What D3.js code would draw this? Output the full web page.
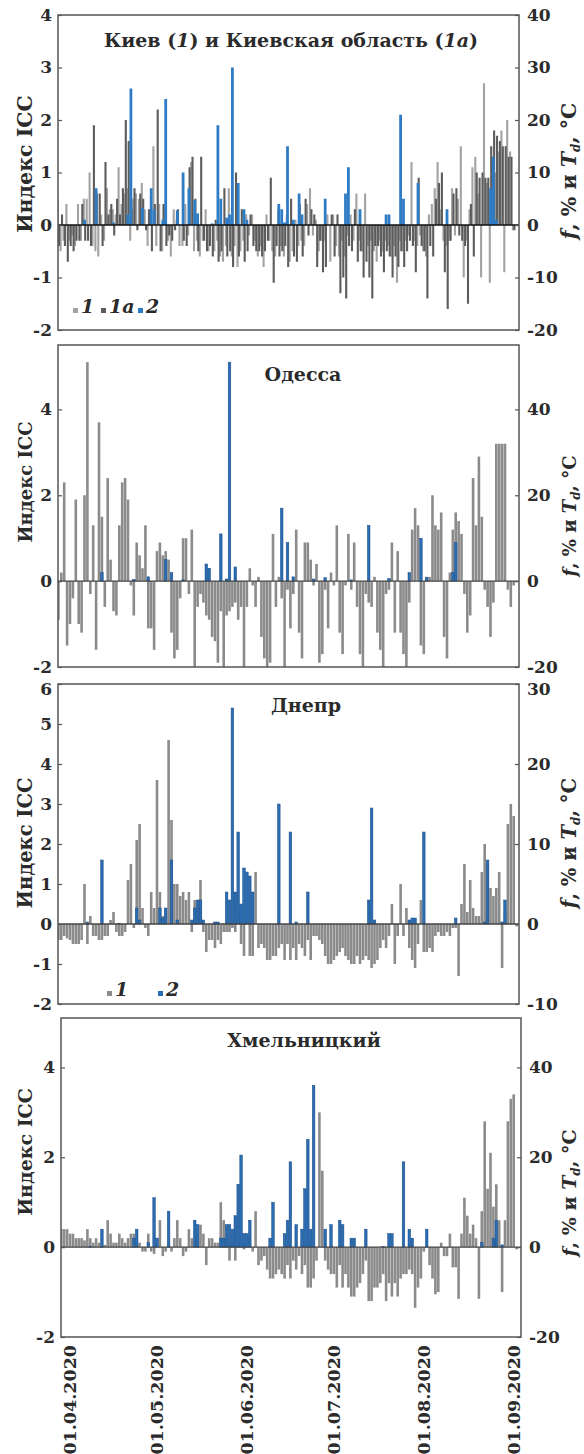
<!DOCTYPE html>
<html>
<head>
<meta charset="utf-8">
<script src="https://cdn.jsdelivr.net/npm/d3@7"></script>
<style>
  body { margin: 0; background: #fff; }
  text { font-family: "DejaVu Serif", serif; font-weight: bold; fill: #2b2b2b; }
</style>
</head>
<body>
<div id="chart"></div>
<script>
// дни: 28.03.2020 ... 02.09.2020 (159 значений)
const firstDay = Date.UTC(2020, 2, 28);
const monthTicks = ['01.04.2020', '01.05.2020', '01.06.2020', '01.07.2020', '01.08.2020', '01.09.2020'];

// Киев (1), f/Td
const kievCity = [
  5, -5, -3, 4, -3, -2, -4, 4, -3, 5,
  5, 10, -4, -5, -6, 2, -3, 7, 3, 3,
  2, 11, 4, 6, 7, -3, 5, 6, 5, 8,
  3, -4, 2, 15, -4, 4, -5, 4, -3, -6,
  3, 1, -4, -4, 4, -2, 12, -5, -3, -6,
  -3, 3, -5, 0, -5, -3, -6, -7, -4, 7,
  -6, -4, -8, -5, -3, 2, -2, 2, -3, -6,
  -4, -8, 2, -3, -5, -6, 3, -4, -6, 2,
  -7, -5, 1, -4, -3, -4, 4, 7, -2, 1,
  -5, -3, -3, 2, -7, 2, -4, -6, -3, -6,
  -2, 2, -3, 6, -3, -5, 6, -4, -3, -5,
  -7, -3, -5, -3, -4, -6, -4, -11, -3, -5,
  -3, -2, 12, -3, -4, -2, -5, -6, 2, 4,
  7, 12, 3, -3, -4, -3, 7, -2, 5, 15,
  -10, -3, 3, 11, 13, 6, -10, 27, 8, -11,
  5, 10, 14, 18, -9, 20, 14, -1, 0
];
// Киевская область (1a), f/Td
const kievRegion = [
  -4, 2, -4, -7, -4, -5, -3, -3, 4, -3,
  -3, -4, 19, 6, 6, -4, 12, 2, 4, -2,
  5, 2, 7, 20, 16, 3, 7, -1, 6, 5,
  -1, 3, -5, 4, 22, -5, 4, -4, -2, -3,
  -1, 3, 0, -3, -4, 11, 13, 5, -5, 13,
  -3, -5, -4, -6, 1, -7, -5, 7, -6, -5,
  -8, 10, -6, 3, -7, -5, 2, -4, -5, -5,
  -6, -5, -3, 9, -11, -4, -6, -5, -4, -8,
  5, -6, -7, 4, -6, 5, -2, 3, 2, -8,
  -3, -9, -8, 0, 2, -6, 2, -13, -10, -14,
  -4, -5, 3, -7, -5, -10, -7, -10, -14, -4,
  -4, -6, -9, -5, -6, -10, -6, -8, -5, -8,
  -5, -3, -4, -9, 9, -4, -5, -14, -4, -6,
  5, 8, 10, -9, -16, -3, 6, 7, -2, -3,
  -4, -15, 4, -6, 10, 9, 10, 9, 9, 15,
  18, 17, 16, 15, 15, 13, 13, -1, 0
];
// индекс ICC, Киев (2)
const kievIcc = [
  0, 0, 0, 0, 0, 0, 0, 0, 0, 0.1,
  0, 0, 0, 0.7, 0, 0, 0, 0, 0, 0.05,
  0, 0, 0, 0, 0.2, 2.6, 0, 0, 0, 0.33,
  0, 0, 0.7, 0.3, 0, 0, 0.1, 2.4, 0, 0,
  0, 0.28, 0, 1.0, 0, 0.7, 0, 0.48, 0.22, 0,
  0, 0, 0, 0.03, 0, 1.9, 0.5, 0, 0.14, 0.2,
  3.0, 0, 0.8, 0, 0.3, 0.1, 0, 0, 0, 0,
  0, 0, 0, 0, 0, 0, 0.4, 0.3, 0.05, 1.5,
  0, 0.1, 0, 0.6, 0.2, 0, 0, 0, 0, 0,
  0, 0, 0.5, 0, 0, 0, 0, 0, 0, 0.6,
  1.1, 0, 0, 0, 0.3, 0, 0, 0, 0, 0,
  0, 0, 0, 0.2, 0.2, 0, 0, 0, 2.1, 0.5,
  0, 0, 0, 0, 0.8, 0, 0, 0, 0, 0,
  0, 0, 0, 0, 0.3, 0, 0, 0, 0, 0,
  0, 0, 0, 0, 0, 0, 0, 0, 0, 0.7,
  1.3, 0.1, 0, 0, 0, 0, 0, 0, 0
];

// Одесса
const odessaF = [
  -9, 2, 23, -15, -10, -4, 19, -10, -12, 20,
  51, -3, 13, -16, 37, 15, -6, 24, 5, -7,
  -8, 13, 23, 24, 19, -1, -8, 9, 6, 3,
  13, -11, -11, -16, 7, 9, 6, 7, 5, -12,
  -18, -16, -4, 10, 10, -3, 12, -21, -6, -3,
  -5, -8, -9, -13, -14, -19, -7, -21, -8, -7,
  -6, -5, -9, -6, -21, -6, 3, -1, -6, 1,
  -13, -18, -21, -19, 11, -6, 1, -4, -21, -2,
  -11, -3, 12, -12, -18, 9, 9, 5, -1, 4,
  -19, -17, -2, -11, 2, -1, 13, -12, -17, -1,
  11, -2, 9, -6, -17, -21, -3, -5, -6, 1,
  -12, -16, -21, -3, -2, 9, -12, 7, -12, -17,
  -21, -5, 12, 17, 13, -15, -17, 1, 1, 20,
  13, 12, 16, -13, -18, 2, 12, 16, 14, 11,
  -3, -12, -8, 24, 13, 29, 15, -2, -6, -13,
  -5, 32, 32, 32, 32, -2, -6, -1, 0
];
const odessaIcc = [
  0, 0, 0, 0, 0, 0, 0, 0, 0, 0,
  0, 0, 0, 0, 0, 0.2, 0, 0, 0, 0,
  0, 0, 0, 0, 0, 0, 0.04, 0, 0, 0,
  0, 0.1, 0, 0, 0, 0, 0, 0.5, 0, 0.2,
  0, 0, 0, 0.03, 0, 0, 0, 0, 0, 0,
  0, 0.4, 0.3, 0, 0, 0, 1.1, 0, 0.05, 5.1,
  0, 0.33, 0, 0, 0, 0, 0, 0, 0, 0,
  0, 0, 0, 0, 0, 0, 0, 1.7, 0, 0.9,
  0, 0.1, 0, 0, 0, 0, 0, 0, 0.05, 0,
  0, 0, 0.08, 0, 0, 0, 0, 0, 0, 0,
  0, 0.03, 0, 0, 0, 0, 0, 1.3, 0, 0,
  0, 0, 0, 0, 0.06, 0, 0, 0, 0, 0,
  0, 0.2, 0, 0, 0, 1.0, 0, 0.08, 0, 0,
  0, 0, 0, 0, 0, 0, 0.2, 0.9, 0, 0,
  0, 0, 0, 0, 0, 0, 0, 0, 0, 0,
  0, 0, 0, 0, 0, 0, 0, 0, 0
];

// Днепр
const dniproF = [
  -2, -2, -1.5, -1.8, -2, -2.5, -2.5, -2.5, -2, 5,
  -2.5, 1, -1.5, -1.5, -2, -2, -1.5, -1.5, 0.5, 1.5,
  -1, -1.5, -1.5, -1, 5.5, 7.5, -0.5, 10.5, 12.5, 2,
  -0.5, -1.5, 4, 2, 18, 4, 1, 2, 23, 13,
  5, 5, 3.5, 4, 3, 4, -1, 3, 2, 5.5,
  -1, -3.5, -2, -2, -3, -2, -2.5, -1, -1, -1,
  -0.5, -1, 1, -2.5, -4, 0.5, -4, -4, 6.5, -3,
  -2.5, -3, -4.5, -4.5, -4, -4, -3, -2.5, -4.5, -2.5,
  -4.5, -3, -4.5, -2.5, -3, -4, -2, -4.5, -1.5, -1.5,
  -2, -2.5, -4, -5, -5, -4.5, -4, -3.5, -3, -4,
  -4.5, -5, -5, -4, -5, -4.5, -4, -4.5, -5.5, -5,
  -4.5, -3, -2, -3, -1.5, 2.5, -5, -1.5, 5, -1.5,
  2, -3, -4.5, -5.5, -2.5, 3, -3.5, -3.5, -3, -3.5,
  -1.5, -1, -1.5, -1.5, -1, -1.5, -0.5, -0.5, -6.5, 2.5,
  7.5, 1.5, 5.5, 2, 1, 1, 6.5, 10, 7.5, 4.5,
  3.5, 4.5, 6.5, -5.5, 1.5, 12.5, 15, 13.5, -0.3
];
const dniproIcc = [
  0, 0, 0, 0, 0, 0, 0, 0, 0, 0,
  0.05, 0, 0, 0, 0, 1.6, 0, 0, 0, 0,
  0, 0.02, 0, 0, 0, 0, 0, 0.4, 0.1, 0,
  0, 0, 0, 0, 0, 0.4, 0.15, 0.4, 0, 1.6,
  0, 0.1, 0, 0, 0, 0, 0.1, 0.4, 0.6, 0.6,
  0.1, 0, 0, 0, 0.05, 0.05, 0, 0, 0.8, 0.6,
  5.4, 0.8, 2.3, 0.5, 1.4, 1.3, 1.2, 0.8, 0, 0,
  0, 0, 0, 0, 0, 0, 3.0, 0, 0, 0,
  2.3, 0, 0.05, 0, 0, 0, 0.8, 0, 0, 0,
  0, 0, 0, 0, 0, 0, 0, 0, 0, 0,
  0, 0, 0, 0, 0, 0, 0, 0.6, 2.9, 0.1,
  0, 0, 0, 0, 0, 0, 0, 0, 0, 0,
  0, 0.1, 0.15, 0.15, 0, 0, 2.3, 0, 0, 0,
  0, 0, 0, 0, 0, 0, 0, 0.15, 0, 0,
  0, 0, 0, 0, 0, 0, 0, 0.05, 1.6, 0,
  0, 0, 0, 0.05, 0.6, 0, 0, 0, 0
];

// Хмельницкий
const khmelF = [
  3, 4, 4, 4, 3, 3, 2, 2, 2, 1.5,
  4, 2, 1, 2, 1, 0.5, 0.5, 6, 3, 1,
  1, 3, 2, 1, 2, 3, 3, 2, 1, -1,
  -1, 3, -1, -1.5, 2, 6, -2, -1, 1, -1,
  2, 6, 2, -2, -1, 4, 2, 1, 3, 5,
  3, -4, 2, 2, 1, 1, 10, 6, 2, -3,
  1, -3, 1, 1, -0.5, 1, 2, -1, 8, -4,
  -3, -2, -5, -7, -7, -6, -5, -6, -7, -4,
  -7, -3, -5, -2, -6, -4, -9, -9, -7, -3,
  30, 17, -3, -5, -6, -6, -9, -4, -9, -6,
  -9, -11, -11, -9, -8, -6, -3, -12, -12, -9,
  -9, -8, -6, -12, -8, -11, -8, -11, -7, -6,
  -6, -5, -6, -13.5, -9, -7, -1, 0, -4, -7,
  -10.5, -10, 1, -2, -2, 3, -4.5, -4.5, -11.5, 3,
  11, 7, 3, 5, 2, -11.5, 8, 28, 13, 21,
  9, 14, 6, -10, 6, 28, 33, 34, -0.5
];
const khmelIcc = [
  0, 0, 0, 0, 0, 0, 0, 0, 0, 0,
  0, 0.02, 0, 0, 0, 0.4, 0, 0, 0, 0,
  0, 0, 0, 0, 0, 0, 0.2, 0.4, 0, 0,
  0, 0.1, 0, 1.1, 0.2, 0, 0, 0, 0.8, 0,
  0, 0, 0, 0, 0, 0, 0, 0.6, 0.5, 0,
  0, 0, 0, 0, 0, 0, 0.2, 0.2, 0.5, 0.5,
  0.4, 0.7, 1.4, 2.05, 0.3, 0.3, 0.6, 0, 0, 0,
  0, 0, 0, 0.2, 1.0, 0, 0, 0, 0.3, 0.6,
  1.9, 0, 0.5, 0, 0.4, 1.3, 2.4, 0.4, 3.6, 0,
  0, 0, 0.4, 0, 0.5, 0, 0, 0.6, 0.5, 0,
  0, 0.2, 0.2, 0, 0, 0, 0.4, 0, 0, 0,
  0, 0, 0.02, 0, 0.3, 0.3, 0, 0, 0, 1.9,
  0, 0.4, 0.2, 0, 0, 0, 0, 0.4, 0, 0,
  0, 0, 0, 0, 0, 0, 0, 0, 0, 0,
  0, 0, 0, 0, 0, 0, 0.1, 0, 0, 0,
  0.2, 0.6, 0, 0.05, 0, 0, 0, 0, 0
];

const lightGray = '#a3a3a3';
const darkGray = '#5c5c5c';
const midGray = '#8b8b8b';
const blueKiev = '#2f7cc6';
const blue = '#2b6db3';

const width = 584;
const height = 1454;
const svg = d3.select('#chart')
  .append('svg')
  .attr('width', width)
  .attr('height', height);

const parseDay = d3.utcParse('%d.%m.%Y');
const dates = d3.range(kievCity.length).map(i => new Date(firstDay + i * 864e5));

// 2.9 px на сутки, 01.04 на x=70
const x = d3.scaleUtc()
  .domain([parseDay('01.04.2020'), parseDay('01.09.2020')])
  .range([70, 70 + 153 * 2.9]);

const panels = [
  {
    id: 'kiev', top: 15, bottom: 330, left: 58, right: 519,
    leftDomain: [-2, 4], rightDomain: [-20, 40],
    leftTicks: [-2, -1, 0, 1, 2, 3, 4], rightTicks: [-20, -10, 0, 10, 20, 30, 40],
    zeroColor: '#111', topShift: 0,
    title: [['Киев (', 'normal'], ['1', 'italic'], [') и Киевская область (', 'normal'], ['1a', 'italic'], [')', 'normal']],
    titleX: 291, titleY: 47, leftLabelY: 164, rightLabelY: 171, labelSize: 20.5,
    series: [
      { values: kievCity, axis: 'r', color: lightGray, w: 2.1, dx: -0.7 },
      { values: kievRegion, axis: 'r', color: darkGray, w: 2.1, dx: 0.7 },
      { values: kievIcc, axis: 'l', color: blueKiev, w: 2.8, dx: 0 }
    ],
    legend: { y: 313, items: [
      { x: 73, color: lightGray, label: '1' },
      { x: 101, color: darkGray, label: '1a' },
      { x: 138, color: blueKiev, label: '2' }
    ] }
  },
  {
    id: 'odessa', top: 345, bottom: 667, left: 58, right: 519,
    leftDomain: [-2, 5.5], rightDomain: [-20, 55],
    leftTicks: [-2, 0, 2, 4], rightTicks: [-20, 0, 20, 40],
    zeroColor: '#444', topShift: 0,
    title: [['Одесса', 'normal']],
    titleX: 303, titleY: 381, leftLabelY: 482, rightLabelY: 516, labelSize: 18,
    series: [
      { values: odessaF, axis: 'r', color: midGray, w: 2.6, dx: 0 },
      { values: odessaIcc, axis: 'l', color: blue, w: 2.6, dx: 0, stroke: '#1b4c86' }
    ]
  },
  {
    id: 'dnipro', top: 684, bottom: 1004, left: 58, right: 519,
    leftDomain: [-2, 6], rightDomain: [-10, 30],
    leftTicks: [-2, -1, 0, 1, 2, 3, 4, 5, 6], rightTicks: [-10, 0, 10, 20, 30],
    zeroColor: '#444', topShift: 5,
    title: [['Днепр', 'normal']],
    titleX: 306, titleY: 712, leftLabelY: 843, rightLabelY: 843, labelSize: 19.5,
    series: [
      { values: dniproF, axis: 'r', color: midGray, w: 2.6, dx: 0 },
      { values: dniproIcc, axis: 'l', color: blue, w: 2.6, dx: 0, stroke: '#1b4c86' }
    ],
    legend: { y: 996, items: [
      { x: 107, color: midGray, label: '1' },
      { x: 158, color: blue, label: '2' }
    ] }
  },
  {
    id: 'khmel', top: 1018, bottom: 1337, left: 61, right: 521,
    leftDomain: [-2, 5.1], rightDomain: [-20, 51],
    leftTicks: [-2, 0, 2, 4], rightTicks: [-20, 0, 20, 40],
    zeroColor: '#444', topShift: 0,
    title: [['Хмельницкий', 'normal']],
    titleX: 304, titleY: 1047, leftLabelY: 1152, rightLabelY: 1193, labelSize: 19,
    series: [
      { values: khmelF, axis: 'r', color: midGray, w: 2.6, dx: 0 },
      { values: khmelIcc, axis: 'l', color: blue, w: 2.6, dx: 0, stroke: '#1b4c86' }
    ]
  }
];

panels.forEach(drawPanel);

// подписи дат под нижней панелью
const last = panels[panels.length - 1];
svg.append('g')
  .selectAll('text')
  .data(monthTicks)
  .join('text')
  .attr('transform', d => `translate(${x(parseDay(d))},${last.bottom + 8}) rotate(-90)`)
  .attr('text-anchor', 'end')
  .attr('dy', '0.36em')
  .style('font-size', '17.5px')
  .text(d => d);

function drawPanel(p) {
  const g = svg.append('g').attr('class', p.id);
  const yL = d3.scaleLinear().domain(p.leftDomain).range([p.bottom, p.top]);
  const yR = d3.scaleLinear().domain(p.rightDomain).range([p.bottom, p.top]);

  g.append('clipPath')
    .attr('id', 'clip-' + p.id)
    .append('rect')
    .attr('x', p.left)
    .attr('y', p.top)
    .attr('width', p.right - p.left)
    .attr('height', p.bottom - p.top);

  const plot = g.append('g').attr('clip-path', `url(#clip-${p.id})`);

  p.series.forEach(s => {
    const y = s.axis === 'l' ? yL : yR;
    const rows = s.values
      .map((v, i) => ({ v, date: dates[i] }))
      .filter(d => d.v !== 0);
    plot.append('g')
      .selectAll('rect')
      .data(rows)
      .join('rect')
      .attr('x', d => x(d.date) + s.dx - s.w / 2)
      .attr('width', s.w)
      .attr('y', d => Math.min(y(d.v), y(0)))
      .attr('height', d => Math.max(0.6, Math.abs(y(d.v) - y(0))))
      .attr('fill', s.color)
      .attr('stroke', s.stroke || 'none')
      .attr('stroke-width', s.stroke ? 0.5 : 0);
  });

  // нулевая линия
  g.append('line')
    .attr('x1', p.left).attr('x2', p.right)
    .attr('y1', yL(0)).attr('y2', yL(0))
    .attr('stroke', p.zeroColor)
    .attr('stroke-width', 1.4);

  // рамка
  g.append('rect')
    .attr('x', p.left).attr('y', p.top)
    .attr('width', p.right - p.left)
    .attr('height', p.bottom - p.top)
    .attr('fill', 'none')
    .attr('stroke', '#555')
    .attr('stroke-width', 1.5);

  // оси
  const axL = g.append('g')
    .attr('transform', `translate(${p.left},0)`)
    .call(d3.axisLeft(yL).tickValues(p.leftTicks).tickSize(-4).tickPadding(6).tickFormat(d3.format('d')));
  const axR = g.append('g')
    .attr('transform', `translate(${p.right},0)`)
    .call(d3.axisRight(yR).tickValues(p.rightTicks).tickSize(-4).tickPadding(8).tickFormat(d3.format('d')));
  const topL = p.leftDomain[1];
  const topR = p.rightTicks[p.rightTicks.length - 1];
  [axL, axR].forEach(ax => {
    ax.select('.domain').remove();
    ax.selectAll('.tick line').attr('stroke', '#555').attr('stroke-width', 1.2);
    ax.selectAll('.tick text')
      .style('font-size', '17px')
      .style('font-family', '"DejaVu Serif", serif')
      .attr('fill', '#2b2b2b');
  });
  // верхние подписи третьей панели ниже, как в оригинале
  axL.selectAll('.tick text').filter(d => d === topL).attr('y', p.topShift);
  axR.selectAll('.tick text').filter(d => d === topR && p.topShift).attr('y', p.topShift);
  g.selectAll('.tick text').text(function () { return d3.select(this).text().replace('−', '-'); });

  // заголовок
  const t = g.append('text')
    .attr('x', p.titleX)
    .attr('y', p.titleY)
    .attr('text-anchor', 'middle')
    .style('font-size', '19px');
  p.title.forEach(([txt, st]) => t.append('tspan').style('font-style', st).text(txt));

  // подпись левой оси
  g.append('text')
    .attr('transform', `translate(32,${p.leftLabelY}) rotate(-90)`)
    .attr('text-anchor', 'middle')
    .style('font-size', p.labelSize + 'px')
    .text('Индекс ICC');

  // подпись правой оси
  const r = g.append('text')
    .attr('transform', `translate(576,${p.rightLabelY}) rotate(-90)`)
    .attr('text-anchor', 'middle')
    .style('font-size', p.labelSize + 'px');
  r.append('tspan').style('font-style', 'italic').text('f');
  r.append('tspan').text(', % и ');
  r.append('tspan').style('font-style', 'italic').text('T');
  r.append('tspan').style('font-style', 'italic').style('font-size', '12px').attr('dy', 4).text('d');
  r.append('tspan').attr('dy', -4).text(', °C');

  // легенда
  if (p.legend) {
    const lg = g.append('g');
    p.legend.items.forEach(it => {
      lg.append('rect')
        .attr('x', it.x).attr('y', p.legend.y - 5)
        .attr('width', 5).attr('height', 5)
        .attr('fill', it.color);
      lg.append('text')
        .attr('x', it.x + 8).attr('y', p.legend.y)
        .style('font-size', '19px')
        .style('font-style', 'italic')
        .text(it.label);
    });
  }
}
</script>
</body>
</html>
